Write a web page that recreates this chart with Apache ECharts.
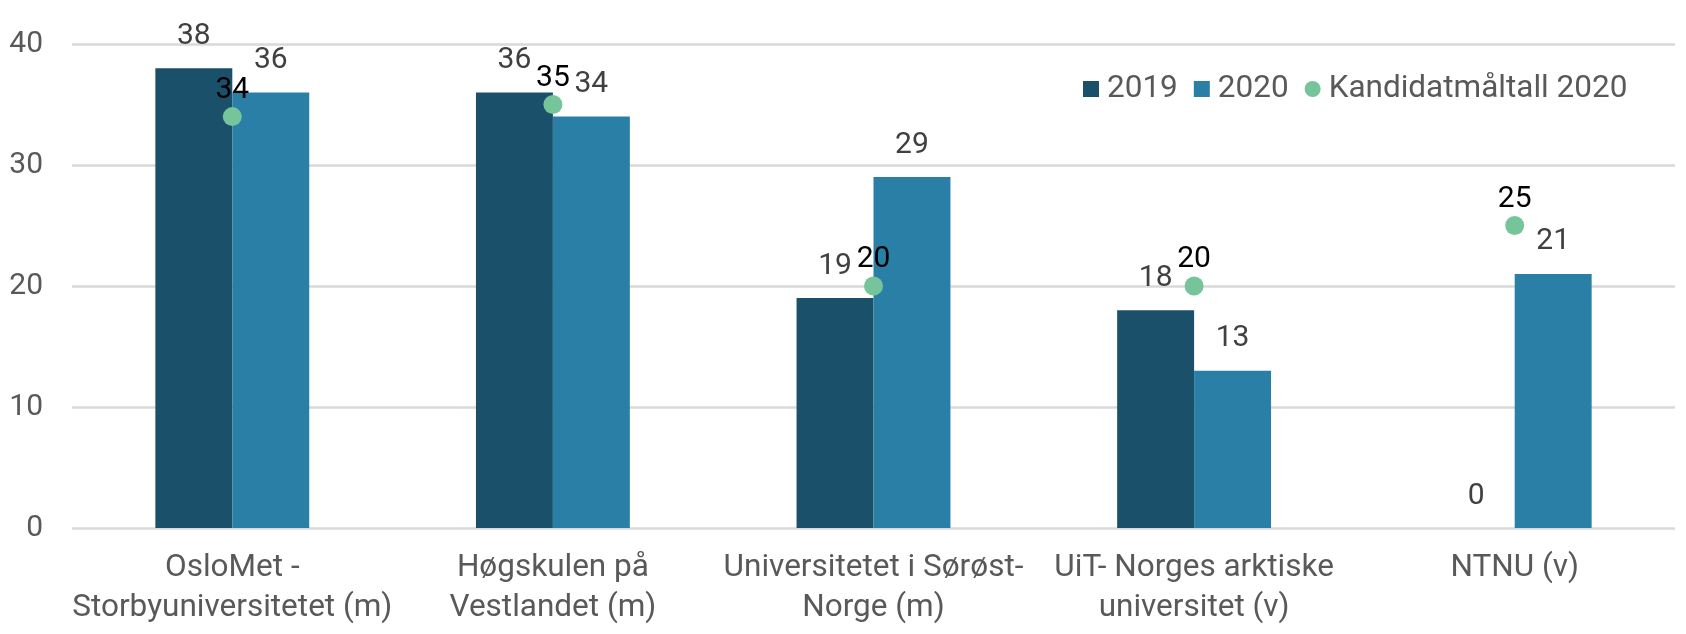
<!DOCTYPE html>
<html>
<head>
<meta charset="utf-8">
<script src="https://cdn.jsdelivr.net/npm/echarts@6/dist/echarts.min.js"></script>
<style>
html,body{margin:0;padding:0;background:#fff;}
#chart{width:1686px;height:634px;}
</style>
</head>
<body>
<div id="chart"></div>
<script>
const categories = [
  "OsloMet -\nStorbyuniversitetet (m)",
  "Høgskulen på\nVestlandet (m)",
  "Universitetet i Sørøst-\nNorge (m)",
  "UiT- Norges arktiske\nuniversitet (v)",
  "NTNU (v)"
];
const values2019 = [38, 36, 19, 18, 0];
const values2020 = [36, 34, 29, 13, 21];
const targets2020 = [34, 35, 20, 20, 25];
const seriesNames = ["2019", "2020", "Kandidatmåltall 2020"];
const yTicks = { min: 0, max: 40, interval: 10 };

const FONT = "Roboto";
const chart = echarts.init(document.getElementById('chart'), null, {renderer: 'canvas'});
const barLabel = {
  show: true, position: 'top', distance: 17,
  fontFamily: FONT, fontSize: 30, color: '#404040'
};
chart.setOption({
  animation: false,
  backgroundColor: '#ffffff',
  textStyle: { fontFamily: FONT },
  grid: { left: 72, right: 11, top: 44, bottom: 106, containLabel: false },
  legend: {
    left: 1078, top: 68,
    itemWidth: 16, itemHeight: 16, itemGap: 16,
    textStyle: { fontFamily: FONT, fontSize: 31.5, color: '#595959', padding: [0, 0, 0, 3] },
    data: [
      { name: seriesNames[0], icon: 'rect' },
      { name: seriesNames[1], icon: 'rect' },
      { name: seriesNames[2], icon: 'circle' }
    ]
  },
  xAxis: {
    type: 'category',
    data: categories,
    axisLine: { show: false },
    axisTick: { show: false },
    axisLabel: {
      interval: 0, margin: 20,
      fontFamily: FONT, fontSize: 31.5, lineHeight: 40, color: '#595959'
    }
  },
  yAxis: {
    type: 'value',
    min: yTicks.min, max: yTicks.max, interval: yTicks.interval,
    axisLine: { show: false },
    axisTick: { show: false },
    splitLine: { lineStyle: { color: '#D9D9D9', width: 2.5 } },
    axisLabel: { margin: 29, fontFamily: FONT, fontSize: 30, color: '#595959' }
  },
  series: [
    {
      name: seriesNames[0], type: 'bar', data: values2019,
      barWidth: '24%', barGap: '0%',
      itemStyle: { color: '#1B506A' },
      label: barLabel
    },
    {
      name: seriesNames[1], type: 'bar', data: values2020,
      barWidth: '24%', barGap: '0%',
      itemStyle: { color: '#2A7FA7' },
      label: barLabel
    },
    {
      name: seriesNames[2], type: 'scatter', data: targets2020,
      symbol: 'circle', symbolSize: 19, z: 5,
      itemStyle: { color: '#76C49A', opacity: 1 },
      label: {
        show: true, position: 'top', distance: 2,
        fontFamily: FONT, fontSize: 30, color: '#000000'
      }
    }
  ]
});
</script>
</body>
</html>
